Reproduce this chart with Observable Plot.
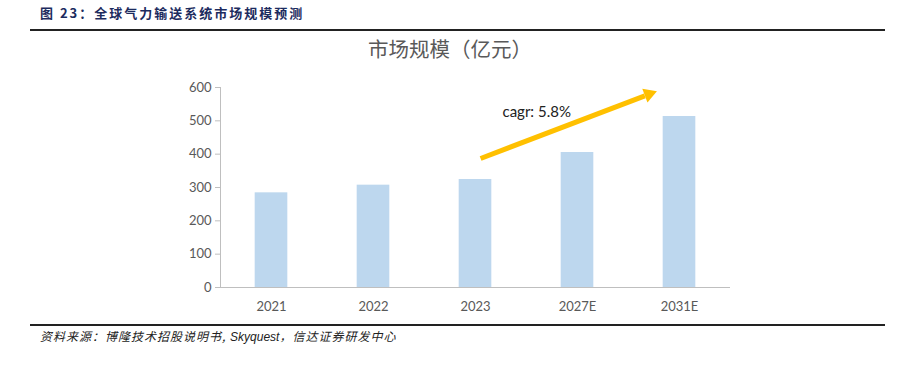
<!DOCTYPE html>
<html><head><meta charset="utf-8">
<script src="https://cdn.jsdelivr.net/npm/d3@7"></script>
<script src="https://cdn.jsdelivr.net/npm/@observablehq/plot@0.6"></script>
<style>
body{margin:0;background:#fff;}
#page{position:relative;width:897px;height:365px;overflow:hidden;font-family:"Noto Sans CJK SC",sans-serif;}
#hdr{position:absolute;left:40px;top:3px;font-size:13px;font-weight:bold;color:#1c2b5e;letter-spacing:2px;}
#hl{position:absolute;left:30px;top:29px;width:855px;height:2px;background:#222;}
#ctitle{position:absolute;left:0;width:900px;top:33px;text-align:center;font-size:20.5px;color:#595959;}
#chart{position:absolute;left:0;top:60px;}
#fl{position:absolute;left:30px;top:324px;width:855px;height:2px;background:#222;}
#src{position:absolute;left:40px;top:327px;font-size:12px;font-style:italic;color:#222;letter-spacing:1px;}
</style></head>
<body><div id="page">
<div id="hdr">图 23：全球气力输送系统市场规模预测</div>
<div id="hl"></div>
<div id="ctitle">市场规模（亿元）</div>
<div id="chart"></div>
<div id="fl"></div>
<div id="src">资料来源：博隆技术招股说明书, <span style="font-family:'Liberation Sans';letter-spacing:0">Skyquest</span>，信达证券研发中心</div>
</div>
<script>
const years = ["2021","2022","2023","2027E","2031E"];
const values = [284, 307, 324, 405, 513];
const yTicks = [0,100,200,300,400,500,600];
const arrowFrom = {i: 2.05, v: 387};
const arrowTo = {i: 3.66, v: 575};
const arrowTip = {i: 3.70, v: 580};
const cagrLabel = {i: 2.6, v: 525, text: "cagr: 5.8%"};

const data = years.map((y,i)=>({i, year:y, value:values[i]}));
const half = 0.16;
const font = "Lato, 'Open Sans', sans-serif";

const chart = Plot.plot({
  width: 897, height: 260,
  marginTop: 27, marginBottom: 33, marginLeft: 220, marginRight: 167,
  style:{fontFamily: font, fontSize:"13px", color:"#595959", background:"transparent"},
  x:{domain:[-0.5,4.5], label:null},
  y:{domain:[0,600], label:null},
  marks:[
    Plot.rectY(data,{x1:d=>d.i-half, x2:d=>d.i+half, y1:0, y2:"value", fill:"#bdd7ee"}),
    Plot.ruleX([-0.5],{stroke:"#bfbfbf", y1:0, y2:600}),
    Plot.ruleY([0],{stroke:"#bfbfbf"}),
    Plot.axisY({ticks:yTicks, tickSize:5, stroke:"#bfbfbf", tickPadding:4, fill:"#595959", label:null}),
    Plot.axisX({ticks:[0,1,2,3,4], tickFormat:d=>years[d], tickSize:0, tickPadding:14, fill:"#595959", label:null}),
    Plot.link([{}],{x1:arrowFrom.i, y1:arrowFrom.v, x2:arrowTo.i, y2:arrowTo.v, stroke:"#ffc000", strokeWidth:5}),
    Plot.dot([arrowTip],{x:"i", y:"v", symbol:"triangle", r:5.5, fill:"#ffc000", stroke:"none", rotate:69.6}),
    Plot.text([cagrLabel],{x:"i", y:"v", text:"text", fill:"#222", fontSize:15})
  ]
});
document.getElementById("chart").appendChild(chart);
</script>
</body></html>
